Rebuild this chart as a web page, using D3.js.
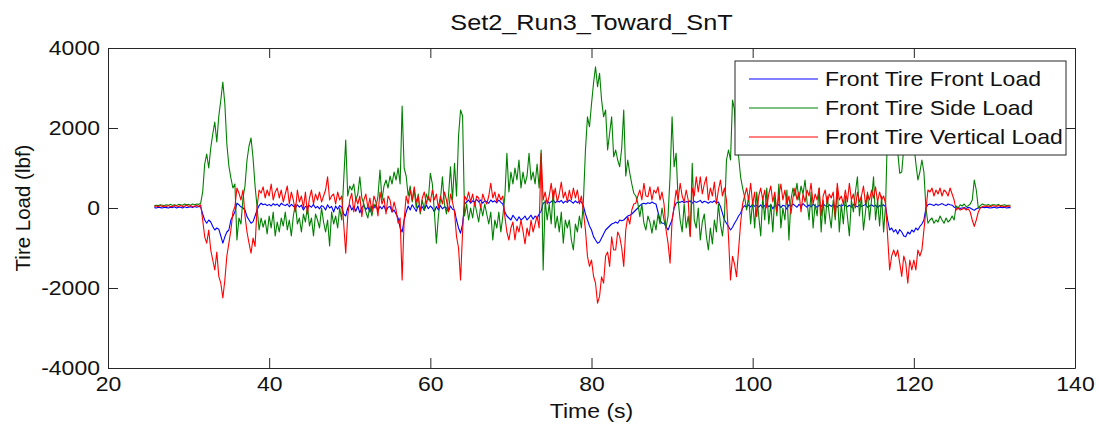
<!DOCTYPE html>
<html>
<head>
<meta charset="utf-8">
<script src="https://cdn.jsdelivr.net/npm/d3@7"></script>
<style>
  html, body { margin: 0; padding: 0; background: #fff; }
  svg { display: block; font-family: "Liberation Sans", Arial, sans-serif; }
</style>
</head>
<body>
<svg id="chart" width="1099" height="434"></svg>
<script>
// Sampling of the recorded run (seconds)
const timeStart = 25.75;
const timeStep = 0.25;

// Front tire loads (lbf), one value per sample
const frontLoad = [
  10,
  0, 20, 10, 0,   20, 10, 0, 20,   10, 30, 0, 20,   20, 0, 30, 10,   20, 30, 10, 40,
  20, 40, 30, -150,   -300, -380, -300, -350,   -460, -550, -500, -530,   -700, -880, -720, -600,   -550, -300, -200, -100,
  120, 80, 30, 0,   -50, -215, -300, -380,   -340, -200, -50, 60,   120, 80, 100, 60,   90, 50, 110, 70,
  100, 40, 120, 80,   60, 100, 30, 90,   50, 0, 80, 20,   70, -50, 40, 10,   60, 20, 90, 0,
  40, -20, 60, 30,   -50, 80, 0, 40,   -100, 50, -30, 60,   20, -150, -200, 0,   80, -50, 40, -80,
  50, -120, 20, 60,   -40, 30, -100, 50,   0, 80, -60, 40,   -20, 60, -80, 20,   40, -100, -50, -150,
  -250, -500, -600, -300,   -100, 50, -50, 80,   0, -80, 60, -40,   30, -60, 80, -20,   50, 0, -100, 40,
  -50, 60, -20, 30,   0, -80, 50, -30,   -50, -300, -500, -630,   -400, 100, 150, 200,   120, 180, 150, 220,
  150, 200, 120, 180,   160, 120, 200, 150,   180, 130, 200, 140,   100, -100, -200, -250,   -300, -180, -250, -320,
  -220, -300, -260, -200,   -300, -240, -180, -280,   -200, -260, -150, -80,   120, 150, 180, 120,   160, 200, 130, 180,
  150, 190, 120, 170,   140, 200, 160, 120,   180, 130, 170, 150,   50, -150, -300, -450,   -550, -715, -800, -880,
  -850, -750, -650, -550,   -500, -450, -400, -380,   -350, -380, -300, -320,   -300, -250, -200, -180,   -150, -100, -50, 0,
  60, 100, 120, 100,   130, 110, 150, 120,   100, -100, -300, -380,   -380, -460, -550, -420,   -300, 0, 120, 150,
  140, 170, 130, 160,   150, 180, 120, 170,   140, 160, 190, 130,   170, 150, 120, 160,   140, 180, 130, 150,
  40, -130, -300, -380,   -460, -550, -480, -380,   -300, -200, -130, 0,   60, 20, 80, 30,   90, 40, 70, 20,
  80, 0, 60, 100,   30, 80, -20, 60,   40, 90, 10, 70,   50, -30, 80, 40,   100, 60, 20, 90,
  40, 110, 60, 20,   80, 30, 90, 50,   20, 70, 40, 100,   60, 30, 80, 40,   90, 50, 20, 70,
  40, 80, 60, 30,   70, 20, 90, 50,   30, 80, 40, 60,   90, 20, 50, 80,   40, 70, 10, 60,
  50, 80, 30, -300,   -550, -500, -600, -540,   -650, -540, -600, -700,   -715, -600, -650, -550,   -600, -500, -550, -460,
  -400, -300, 0, 80,   100, 80, 60, 100,   70, 90, 110, 80,   60, 100, 80, 70,   20, 0, 10, -10,
  0, 10, -10, 20,   0, -30, -60, -20,   0, 10, 20, 10,   20, 10, 0, 10,   20, 0, 10, 20,
  10, 20, 0, 10,
  10
];

const sideLoad = [
  60,
  70, 60, 80, 70,   60, 80, 70, 90,   70, 80, 60, 90,   80, 70, 100, 80,   90, 70, 100, 80,
  100, 90, 120, 400,   1100, 1350, 1000, 1500,   1850, 2150, 1650, 2300,   2700, 3150, 2600, 1600,   1050, 750, 500, 600,
  -800, -250, -400, 250,   550, 1200, 1550, 1750,   1250, 550, 20, -550,   -250, -480, -300, -650,   -200, -500, -100, -700,
  -350, -600, -250, -450,   -100, -550, -300, -700,   -200, 100, -400, -250,   -600, -150, -350, 50,   -450, -250, -700, -150,
  -300, -500, 0, -350,   -600, -300, -950, -100,   -400, -200, -500, 0,   -300, 700, 1700, 300,   550, 450, 600, 200,
  350, 780, 250, 100,   -100, -250, 50, -200,   100, 0, 300, 950,   200, 550, 700, 500,   800, 600, 900, 700,
  1000, 600, 2550, 1000,   800, 300, 550, 150,   450, 0, 350, -150,   200, -50, 350, 200,   870, 600, -100, -880,
  -200, 200, 780, 100,   -150, 300, 1030, 200,   1120, 300, 1800, 2450,   2300, -200, 100, -300,   0, -250, 150, -100,
  -350, 50, -200, 100,   -150, -400, -100, -800,   -300, -500, -100, -600,   -200, 300, 1370, 400,   900, 600, 1000, 700,
  1200, 500, 900, 600,   800, 1370, 700, 900,   600, 1100, 500, 1450,   -1550, 200, -300, 100,   -400, 450, -500, -200,
  -600, -100, -880, -300,   -500, -300, -800, -1050,   -400, -600, -200, -500,   200, 1450, 2280, 2030,   2600, 3120, 3530, 3030,
  3370, 2700, 2280, 2450,   1450, 1870, 2280, 1280,   1450, 1200, 1030, 1500,   2450, 800, 1200, 870,   600, 370, 300, 120,
  -215, 100, -380, -550,   -200, -350, -630, -300,   -550, -150, -400, 0,   -300, -500, -200, 800,   2280, 1030, 1370, 200,
  -300, -600, 100, -500,   -200, -700, 1120, -300,   -500, 0, -800, -350,   -150, -700, -1050, -500,   -900, -300, -600, 100,
  -400, -700, -200, 1200,   1450, 1200, 2700, 2450,   1450, 1300, 780, 500,   280, -50, 300, -400,   200, -500, 400, -200,
  -700, 300, -300, 500,   -400, 100, -600, 300,   -200, 600, -500, 0,   -300, 450, -800, 200,   500, 300, 620, 200,
  550, 350, 700, 150,   -300, 400, -500, 100,   -200, 500, -600, 200,   -400, 300, -150, -500,   200, -300, 500, -600,
  100, -400, 300, -200,   -700, 200, -100, 400,   780, -200, 300, -550,   -100, 400, -300, 200,   780, -300, 200, -450,
  300, -600, 100, 2100,   1700, 1500, 1900, 1600,   1400, 870, 900, 1500,   1700, 1900, 1500, 1800,   1600, 1120, 700, 900,
  1200, 900, 0, -380,   -300, -250, -380, -300,   -350, -200, -300, -380,   -250, -350, -300, -200,   -300, 50, 0, 80,
  50, 100, 30, 60,   100, 200, 700, 450,   0, 60, 100, 80,   70, 90, 60, 80,   80, 70, 90, 60,
  70, 80, 60, 70,
  70
];

const verticalLoad = [
  40,
  50, 30, 60, 40,   50, 40, 60, 30,   40, 60, 50, 40,   60, 40, 50, 70,   40, 60, 30, 50,
  60, 40, 80, -300,   -720, -880, -550, -1050,   -1300, -1550, -1100, -1710,   -1880, -2250, -1800, -1200,   -880, -550, -100, 30,
  500, 370, 200, 450,   -200, -600, -880, -1130,   -750, -960, 30, 450,   370, 530, 250, 450,   300, 600, 200, 400,
  500, 250, 450, 150,   350, 550, 100, 400,   200, -100, 450, 150,   300, 0, 400, -150,   250, 450, 100, 350,
  200, 400, 150, 300,   450, 780, 200, 300,   350, 100, 400, 200,   300, -400, -1130, -200,   200, 370, -100, 250,
  100, 300, -215, 200,   350, 0, 250, -100,   300, 150, -200, 400,   100, 250, -150, 300,   200, -100, 150, -50,
  -380, -250, -1800, -300,   300, 100, 450, 200,   530, 150, 300, -100,   250, 400, 100, 300,   150, 450, 200, 350,
  0, 300, 100, 400,   200, -100, 350, 150,   -100, -715, -1000, -1800,   -600, 300, 200, 400,   150, 350, 50, 300,
  250, 0, 350, 200,   100, 300, 620, 250,   400, 150, 350, 200,   300, -215, -600, -800,   -500, -350, -800, -450,
  -600, -300, -580, -900,   -500, -700, -300, -600,   -400, -200, -500, 1370,   200, 400, 100, 300,   620, 200, 500, 150,
  350, 650, 250, 400,   150, 450, 200, 500,   250, 450, 100, 300,   -100, -550, -1210, -1460,   -1300, -1700, -1880, -2380,
  -2210, -1720, -1880, -1200,   -1100, -1460, -720, -1050,   -1050, -600, -715, -1000,   -1460, -550, -215, -400,   -50, 100, 120, 300,
  450, 200, 620, 300,   280, 530, 200, 450,   370, 530, 200, 400,   100, -550, -880, -1380,   -300, 30, 450, 200,
  620, 300, 150, 450,   200, -715, 500, 300,   780, 400, 780, 350,   600, 780, 200, 500,   300, 650, 100, 450,
  700, 300, 500, 200,   -715, -1800, -1210, -1400,   -1720, -1050, -380, 100,   300, 500, 200, 620,   100, 400, -215, 300,
  500, 200, 450, 0,   350, 550, 150, 400,   -100, 300, 600, 200,   450, 100, 300, -150,   250, 500, 200, 400,
  -100, 350, 150, 450,   300, 620, 100, 350,   200, 500, -200, 300,   450, 100, 350, 250,   400, -215, 620, 200,
  300, 100, 450, 150,   620, 200, 350, 0,   400, 150, 300, 550,   100, 350, 200, 450,   250, 530, 150, 400,
  200, 300, 100, -715,   -1550, -1200, -1050, -1210,   -1050, -1380, -1710, -1200,   -1380, -1880, -1300, -1550,   -1300, -1550, -1050, -1200,
  -1050, -550, -50, 450,   400, 500, 300, 450,   350, 500, 300, 450,   400, 300, 500, 350,   200, -50, 0, -50,
  -30, 0, -50, -20,   -100, -300, -460, -300,   -100, 0, 30, 50,   40, 50, 30, 60,   50, 40, 60, 40,
  50, 30, 40, 50,
  40
];

const seriesNames = ["Front Tire Front Load", "Front Tire Side Load", "Front Tire Vertical Load"];
const seriesColors = ["#0000ff", "#008000", "#ff0000"];
const xTicks = [20, 40, 60, 80, 100, 120, 140];
const yTicks = [-4000, -2000, 0, 2000, 4000];

const svg = d3.select("#chart");
const margin = { left: 108, top: 48, right: 1075, bottom: 368 };

// text is drawn slightly wide, like the stretched figure export
const stretch = 1.15;
const fontSize = 20;
const titleSize = 22;

const x = d3.scaleLinear().domain([20, 140]).range([margin.left, margin.right]);
const y = d3.scaleLinear().domain([-4000, 4000]).range([margin.bottom, margin.top]);

const series = [frontLoad, sideLoad, verticalLoad].map((vals, k) => ({
  name: seriesNames[k],
  color: seriesColors[k],
  points: vals.map((v, i) => [timeStart + i * timeStep, v])
}));

svg.append("defs").append("clipPath").attr("id", "plotClip")
  .append("rect")
  .attr("x", margin.left).attr("y", margin.top)
  .attr("width", margin.right - margin.left).attr("height", margin.bottom - margin.top);

const line = d3.line().x(d => x(d[0])).y(d => y(d[1]));

svg.append("g").attr("clip-path", "url(#plotClip)")
  .selectAll("path")
  .data(series)
  .join("path")
  .attr("d", d => line(d.points))
  .attr("fill", "none")
  .attr("stroke", d => d.color)
  .attr("stroke-width", 1.1)
  .attr("stroke-linejoin", "round");

const axisColor = "#262626";
const tickLen = 10;
// plain hyphen for negative numbers
const plainNumber = d => String(d);

function styleAxis(g) {
  g.selectAll("path.domain").attr("stroke", axisColor).attr("fill", "none");
  g.selectAll(".tick line").attr("stroke", axisColor);
  g.selectAll(".tick text").attr("fill", "#111").attr("font-size", fontSize)
    .attr("font-family", "Liberation Sans, Arial, sans-serif");
}

const gx = svg.append("g")
  .attr("transform", `translate(0,${margin.bottom})`)
  .call(d3.axisBottom(x).tickValues(xTicks).tickFormat(plainNumber)
    .tickSizeInner(-tickLen).tickSizeOuter(0).tickPadding(9))
  .call(styleAxis);
gx.selectAll(".tick text").attr("transform", `scale(${stretch},1)`);

svg.append("g")
  .attr("transform", `translate(0,${margin.top})`)
  .call(d3.axisTop(x).tickValues(xTicks).tickFormat("")
    .tickSizeInner(-tickLen).tickSizeOuter(0))
  .call(styleAxis);

const gy = svg.append("g")
  .attr("transform", `translate(${margin.left},0)`)
  .call(d3.axisLeft(y).tickValues(yTicks).tickFormat(plainNumber)
    .tickSizeInner(-tickLen).tickSizeOuter(0).tickPadding(7))
  .call(styleAxis);
gy.selectAll(".tick text").attr("transform", `scale(${stretch},1)`);

svg.append("g")
  .attr("transform", `translate(${margin.right},0)`)
  .call(d3.axisRight(y).tickValues(yTicks).tickFormat("")
    .tickSizeInner(-tickLen).tickSizeOuter(0))
  .call(styleAxis);

// title and axis labels
svg.append("text")
  .attr("transform", `translate(${(margin.left + margin.right) / 2},30) scale(${stretch},1)`)
  .attr("text-anchor", "middle").attr("font-size", titleSize).attr("fill", "#111")
  .text("Set2_Run3_Toward_SnT");

svg.append("text")
  .attr("transform", `translate(${(margin.left + margin.right) / 2},418) scale(${stretch},1)`)
  .attr("text-anchor", "middle").attr("font-size", fontSize).attr("fill", "#111")
  .text("Time (s)");

svg.append("text")
  .attr("transform", `translate(30,${(margin.top + margin.bottom) / 2}) rotate(-90)`)
  .attr("text-anchor", "middle").attr("font-size", 20.5).attr("fill", "#111")
  .text("Tire Load (lbf)");

// legend
const legend = svg.append("g");
legend.append("rect")
  .attr("x", 735).attr("y", 61).attr("width", 331).attr("height", 94)
  .attr("fill", "#fff").attr("stroke", axisColor).attr("stroke-width", 1);

const rows = legend.selectAll("g.row").data(series).join("g")
  .attr("transform", (d, i) => `translate(0,${79 + i * 29})`);
rows.append("line")
  .attr("x1", 749).attr("x2", 818)
  .attr("stroke", d => d.color).attr("stroke-width", 1);
rows.append("text")
  .attr("transform", `translate(825,0) scale(${stretch},1)`)
  .attr("dy", "0.35em")
  .attr("font-size", fontSize).attr("fill", "#111")
  .text(d => d.name);
</script>
</body>
</html>
